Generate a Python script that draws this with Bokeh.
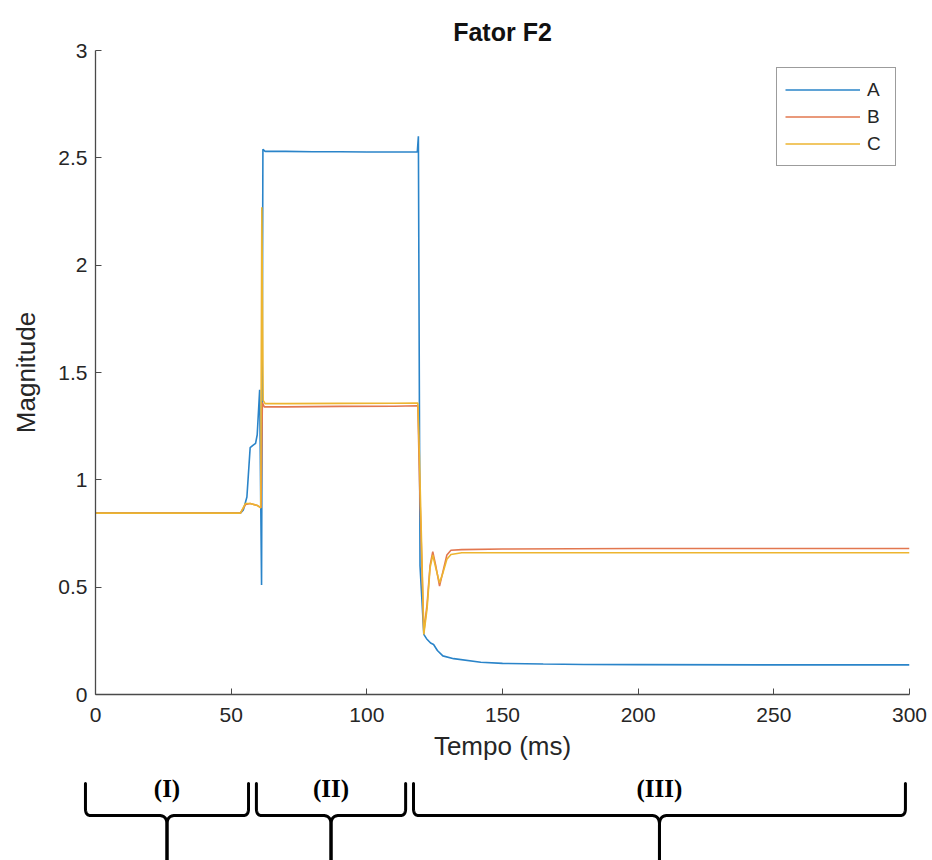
import numpy as np
from bokeh.plotting import figure
from bokeh.models import Range1d, Legend, LegendItem
from bokeh.embed import file_html
from bokeh.resources import INLINE
from bokeh.core.properties import value

# ---------------- data ----------------
title_text = "Fator F2"
x_label = "Tempo (ms)"
y_label = "Magnitude"
x_ticks = [0, 50, 100, 150, 200, 250, 300]
y_ticks = [0, 0.5, 1, 1.5, 2, 2.5, 3]
series_names = ["A", "B", "C"]

t_A = [0, 53.4, 54.5, 55.8, 57.0, 58.0, 59.0, 59.6, 60.5, 61.2, 61.7, 62.5, 70, 80, 90, 100,
       110, 118.6, 119.0, 119.6, 121.0, 122.0, 123.5, 124.6, 126.0, 128.0, 132.0, 142.0,
       150.0, 165.0, 180.0, 200.0, 250.0, 300.0]
mag_A = [0.845, 0.845, 0.86, 0.92, 1.15, 1.16, 1.17, 1.21, 1.42, 0.51, 2.54, 2.53, 2.53, 2.528,
         2.528, 2.527, 2.527, 2.527, 2.60, 0.60, 0.28, 0.26, 0.24, 0.233, 0.205, 0.18, 0.167,
         0.15, 0.145, 0.142, 0.14, 0.139, 0.138, 0.138]

t_B = [0, 53.4, 55.3, 57.0, 59.7, 61.0, 61.5, 62.2, 70, 90, 110, 118.8, 119.4, 121.0, 122.2,
       123.3, 124.3, 125.4, 126.8, 128.0, 129.5, 131.0, 135.0, 150.0, 200.0, 250.0, 300.0]
mag_B = [0.845, 0.845, 0.885, 0.89, 0.88, 0.87, 1.36, 1.34, 1.34, 1.342, 1.343, 1.345, 1.0,
         0.29, 0.42, 0.60, 0.665, 0.60, 0.505, 0.57, 0.65, 0.672, 0.675, 0.678, 0.68, 0.68, 0.68]

t_C = [0, 53.4, 55.3, 57.0, 59.7, 60.9, 61.3, 61.8, 62.5, 70, 90, 110, 118.8, 119.4, 121.0,
       122.2, 123.3, 124.3, 125.4, 126.8, 128.0, 129.5, 131.0, 135.0, 150.0, 200.0, 250.0, 300.0]
mag_C = [0.845, 0.845, 0.89, 0.89, 0.88, 0.87, 2.27, 1.37, 1.355, 1.355, 1.356, 1.357, 1.358,
         1.1, 0.28, 0.40, 0.59, 0.65, 0.59, 0.52, 0.565, 0.63, 0.652, 0.66, 0.66, 0.66, 0.66, 0.66]

phase_labels = ["(I)", "(II)", "(III)"]
phase_start = [-3.7, 59.3, 117.2]
phase_end = [56.4, 114.3, 298.5]

# ---------------- style ----------------
colors = ["#2a84c9", "#e2774f", "#edb530"]
SANS = "Liberation Sans"
SERIF = "Liberation Serif"
TXT = "#262626"
AX = "#4a4a4a"

X0, X1 = 0, 300
frame_w, frame_h = 814, 644
bl, br, bt, bb = 95, 23, 50, 76
page_w = bl + frame_w + br
main_h = bt + frame_h + bb

p = figure(width=page_w, height=main_h,
           x_range=Range1d(X0, X1), y_range=Range1d(0, 3),
           output_backend="svg", toolbar_location=None,
           min_border_left=bl, min_border_right=br, min_border_top=bt, min_border_bottom=bb,
           title=title_text)
p.outline_line_color = None
p.grid.visible = False
p.background_fill_color = "white"

p.title.align = "center"
p.title.text_font = SANS
p.title.text_font_size = "25px"
p.title.text_font_style = "bold"
p.title.text_color = "#111111"

for ax in (p.xaxis, p.yaxis):
    ax.axis_line_color = AX
    ax.axis_line_width = 1.3
    ax.major_tick_line_color = AX
    ax.major_tick_in = 6
    ax.major_tick_out = 0
    ax.minor_tick_in = 0
    ax.minor_tick_out = 0
    ax.major_label_text_font = SANS
    ax.major_label_text_font_size = "21px"
    ax.major_label_text_color = TXT
    ax.axis_label_text_font = SANS
    ax.axis_label_text_font_size = "26px"
    ax.axis_label_text_font_style = "normal"
    ax.axis_label_text_color = TXT

p.xaxis.ticker = x_ticks
p.yaxis.ticker = y_ticks
p.xaxis.major_label_overrides = {v: str(v) for v in x_ticks}
p.yaxis.major_label_overrides = {v: ("%g" % v) for v in y_ticks}
p.xaxis.axis_label = x_label
p.yaxis.axis_label = y_label
p.xaxis.major_label_standoff = 13
p.yaxis.major_label_standoff = 8
p.xaxis.axis_label_standoff = 6
p.yaxis.axis_label_standoff = 14

renderers = []
for t, m, c in zip([t_A, t_B, t_C], [mag_A, mag_B, mag_C], colors):
    r = p.line(t, m, line_color=c, line_width=1.6)
    renderers.append(r)

legend = Legend(items=[LegendItem(label=n, renderers=[r]) for n, r in zip(series_names, renderers)],
                location=(681, 528))
legend.margin = 0
legend.padding = 8
legend.spacing = 0
legend.glyph_width = 75
legend.glyph_height = 27
legend.label_height = 27
legend.label_standoff = 7
legend.label_text_font = SANS
legend.label_text_font_size = "19px"
legend.label_text_color = TXT
legend.border_line_color = "#3a3a3a"
legend.border_line_width = 1.5
legend.background_fill_alpha = 1.0
p.add_layout(legend)

# ---------------- braces ----------------
scale = frame_w / (X1 - X0)
bh = 860 - main_h
b = figure(width=page_w, height=bh,
           x_range=Range1d(X0 - bl / scale, X1 + br / scale), y_range=Range1d(0, 1),
           output_backend="svg", toolbar_location=None, min_border=0,
           x_axis_location=None, y_axis_location=None)
b.outline_line_color = None
b.grid.visible = False


def qbez(p0, p1, p2, n=14):
    t = np.linspace(0, 1, n)
    x = (1 - t) ** 2 * p0[0] + 2 * (1 - t) * t * p1[0] + t ** 2 * p2[0]
    y = (1 - t) ** 2 * p0[1] + 2 * (1 - t) * t * p1[1] + t ** 2 * p2[1]
    return list(x), list(y)


top_y, h_y, tip_y = 77 / bh, 45 / bh, -0.3
label_y = 72 / bh
rv = 7 / bh
rh = 5 / scale
rh2 = 8 / scale
rv2 = 9 / bh

xs, ys, mids = [], [], []
for a, c in zip(phase_start, phase_end):
    m = (a + c) / 2
    mids.append(m)
    for side, s in ((a, 1), (c, -1)):
        px = [side, side]
        py = [top_y, h_y + rv]
        qx, qy = qbez((side, h_y + rv), (side, h_y), (side + s * rh, h_y))
        px += qx; py += qy
        qx, qy = qbez((m - s * rh2, h_y), (m, h_y), (m, h_y - rv2))
        px += qx; py += qy
        px += [m]; py += [tip_y]
        xs.append(px); ys.append(py)

b.multi_line(xs, ys, line_color="black", line_width=3, line_join="round", line_cap="round")
b.text(x=mids, y=[label_y] * len(mids), text=phase_labels, text_font=value(SERIF),
       text_font_style="bold", text_font_size="25px", text_align="center",
       text_baseline="middle", text_color="black")

open("out.html", "w").write(file_html([p, b], INLINE))
